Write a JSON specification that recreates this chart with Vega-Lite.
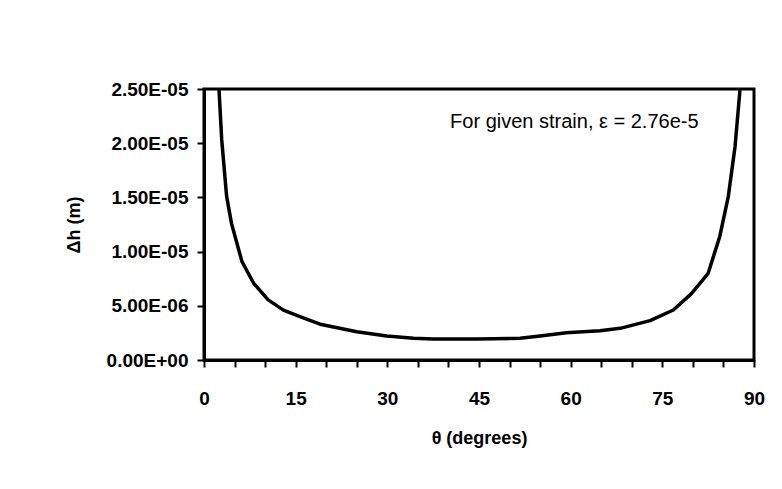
{
  "$schema": "https://vega.github.io/schema/vega-lite/v6.json",
  "autosize": "none",
  "width": 550,
  "height": 271,
  "padding": {"left": 204, "top": 89, "right": 28, "bottom": 129},
  "background": "white",
  "config": {
    "view": {"stroke": "black", "strokeWidth": 3},
    "font": "Liberation Sans"
  },
  "datasets": {
    "curve": [
      {"theta": 2.45, "dh": 2.5e-5},
      {"theta": 2.9, "dh": 2.03e-5},
      {"theta": 3.7, "dh": 1.51e-5},
      {"theta": 4.5, "dh": 1.26e-5},
      {"theta": 6.2, "dh": 9.1e-6},
      {"theta": 8.1, "dh": 7.1e-6},
      {"theta": 10.5, "dh": 5.55e-6},
      {"theta": 13.0, "dh": 4.6e-6},
      {"theta": 15.7, "dh": 4.0e-6},
      {"theta": 19.0, "dh": 3.3e-6},
      {"theta": 25.0, "dh": 2.6e-6},
      {"theta": 29.9, "dh": 2.21e-6},
      {"theta": 34.3, "dh": 2.0e-6},
      {"theta": 37.5, "dh": 1.94e-6},
      {"theta": 44.6, "dh": 1.94e-6},
      {"theta": 51.7, "dh": 2.0e-6},
      {"theta": 55.0, "dh": 2.21e-6},
      {"theta": 59.3, "dh": 2.52e-6},
      {"theta": 64.8, "dh": 2.7e-6},
      {"theta": 68.1, "dh": 2.92e-6},
      {"theta": 73.0, "dh": 3.63e-6},
      {"theta": 76.8, "dh": 4.61e-6},
      {"theta": 79.8, "dh": 6.15e-6},
      {"theta": 82.5, "dh": 8.0e-6},
      {"theta": 84.4, "dh": 1.14e-5},
      {"theta": 85.8, "dh": 1.51e-5},
      {"theta": 86.9, "dh": 1.97e-5},
      {"theta": 87.7, "dh": 2.49e-5}
    ],
    "note": [
      {"theta": 60.6, "dh": 2.195e-5, "label": "For given strain, ε = 2.76e-5"}
    ]
  },
  "encoding": {
    "x": {
      "field": "theta",
      "type": "quantitative",
      "scale": {"domain": [0, 90], "nice": false, "zero": false},
      "axis": {
        "values": [0, 5, 10, 15, 20, 25, 30, 35, 40, 45, 50, 55, 60, 65, 70, 75, 80, 85, 90],
        "labelExpr": "datum.value % 15 === 0 ? datum.label : ''",
        "grid": false,
        "domainColor": "black",
        "domainWidth": 3,
        "tickColor": "black",
        "tickWidth": 2,
        "tickSize": 7,
        "labelFont": "Liberation Sans",
        "labelFontSize": 19,
        "labelFontWeight": "bold",
        "labelColor": "black",
        "labelPadding": 22,
        "labelFlush": false,
        "labelOverlap": false,
        "title": "θ (degrees)",
        "titleFont": "Liberation Sans",
        "titleFontSize": 18,
        "titleFontWeight": "bold",
        "titleColor": "black",
        "titleY": 78,
        "titleBaseline": "middle"
      }
    },
    "y": {
      "field": "dh",
      "type": "quantitative",
      "scale": {"domain": [0, 2.5e-5], "nice": false},
      "axis": {
        "values": [0, 5e-6, 1e-5, 1.5e-5, 2e-5, 2.5e-5],
        "labelExpr": "['0.00E+00','5.00E-06','1.00E-05','1.50E-05','2.00E-05','2.50E-05'][round(datum.value / 5e-6)]",
        "grid": false,
        "domainColor": "black",
        "domainWidth": 3,
        "tickColor": "black",
        "tickWidth": 2,
        "tickSize": 7,
        "labelFont": "Liberation Sans",
        "labelFontSize": 19,
        "labelFontWeight": "bold",
        "labelColor": "black",
        "labelPadding": 9,
        "labelOverlap": false,
        "title": "Δh (m)",
        "titleFont": "Liberation Sans",
        "titleFontSize": 18,
        "titleFontWeight": "bold",
        "titleColor": "black",
        "titleAngle": 270,
        "titleX": -130,
        "titleY": 135.5,
        "titleAlign": "center",
        "titleBaseline": "middle"
      }
    }
  },
  "layer": [
    {
      "data": {"name": "curve"},
      "mark": {"type": "line", "color": "black", "strokeWidth": 3.5, "clip": true, "strokeJoin": "round"}
    },
    {
      "data": {"name": "note"},
      "mark": {"type": "text", "font": "Liberation Sans", "fontSize": 20, "color": "black", "align": "center", "baseline": "middle"},
      "encoding": {
        "text": {"field": "label"}
      }
    }
  ]
}
